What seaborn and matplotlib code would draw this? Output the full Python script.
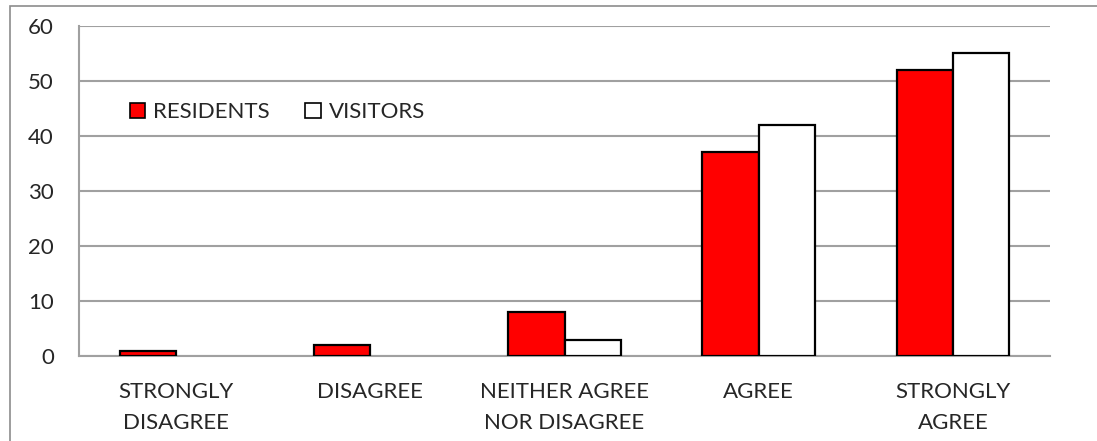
import matplotlib
matplotlib.use("Agg")
import matplotlib.pyplot as plt
import matplotlib.patches as mpatches
from matplotlib.ticker import FixedLocator, MultipleLocator
import seaborn as sns
import pandas as pd

categories = ["STRONGLY\nDISAGREE", "DISAGREE", "NEITHER AGREE\nNOR DISAGREE", "AGREE", "STRONGLY\nAGREE"]
residents = [1, 2, 8, 37, 52]
visitors = [0, 0, 3, 42, 55]
series_names = ["RESIDENTS", "VISITORS"]
series_colors = ["#FF0000", "#FFFFFF"]

df = pd.DataFrame({
    "category": categories * 2,
    "value": residents + visitors,
    "group": [series_names[0]] * len(categories) + [series_names[1]] * len(categories),
})

sns.set_style("white")
plt.rcParams["font.family"] = ["Lato", "DejaVu Sans"]

GRID = "#A0A0A0"
FS = 16

fig = plt.figure(figsize=(10.97, 4.41), dpi=100)
ax = fig.add_axes([79 / 1097, 1 - 356 / 441, (1050 - 79) / 1097, 330 / 441])

sns.barplot(data=df, x="category", y="value", hue="group", order=categories,
            hue_order=series_names, palette=series_colors, width=0.58, gap=0,
            edgecolor="black", linewidth=1.6, saturation=1, ax=ax, legend=False,
            zorder=3)

# hide zero-height bars so no outline is drawn on the baseline
for p in ax.patches:
    if p.get_height() == 0:
        p.set_visible(False)

ax.set_ylim(0, 60)
ax.set_xlim(-0.5, len(categories) - 0.5)
ax.yaxis.set_major_locator(MultipleLocator(10))
ax.grid(axis="y", color=GRID, linewidth=1.5, zorder=0)
ax.set_axisbelow(True)

for side in ("top", "right"):
    ax.spines[side].set_visible(False)
for side in ("left", "bottom"):
    ax.spines[side].set_color(GRID)
    ax.spines[side].set_linewidth(1.5)

ax.set_xlabel("")
ax.set_ylabel("")
ax.tick_params(axis="y", which="major", direction="out", length=6, width=1.5,
               color=GRID, labelsize=FS, pad=12)
ax.tick_params(axis="x", which="major", length=0, labelsize=FS, pad=19)
ax.xaxis.set_minor_locator(FixedLocator([i - 0.5 for i in range(len(categories) + 1)]))
ax.tick_params(axis="x", which="minor", direction="out", length=6, width=1.5, color=GRID)
for lbl in ax.get_xticklabels():
    lbl.set_linespacing(1.65)

handles = [mpatches.Patch(facecolor=c, edgecolor="black", linewidth=1.2, label=n)
           for c, n in zip(series_colors, series_names)]
ax.legend(handles=handles, loc="center left", bbox_to_anchor=(0.043, 0.738),
          ncol=2, frameon=False, fontsize=FS, handlelength=0.7, handleheight=0.7,
          handletextpad=0.35, columnspacing=1.6, borderaxespad=0)

# outer chart border
fig.patches.append(mpatches.Rectangle((10 / 1097, -0.5), 2, 1.5 - 6 / 441,
                                      transform=fig.transFigure, fill=False,
                                      edgecolor="#8C8C8C", linewidth=1.2))

fig.savefig("out.png", dpi=100)
